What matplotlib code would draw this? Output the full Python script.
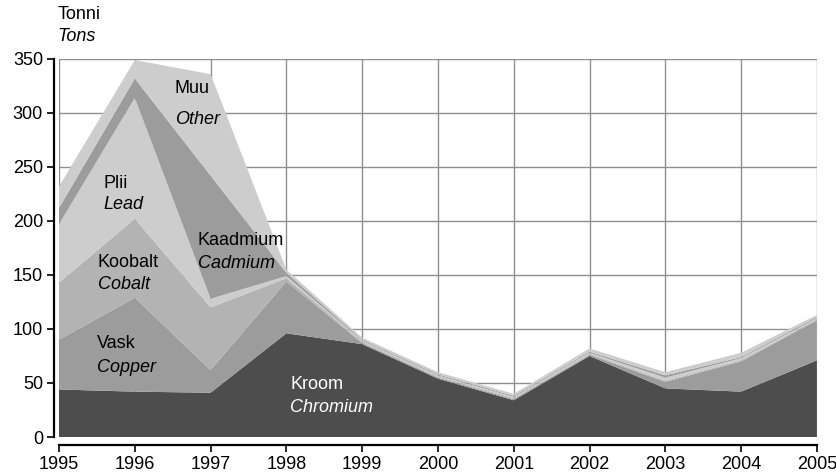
import numpy as np
import matplotlib.pyplot as plt

plt.rcParams['font.family'] = ['Liberation Sans', 'DejaVu Sans']

years = [1995, 1996, 1997, 1998, 1999, 2000, 2001, 2002, 2003, 2004, 2005]
# layer values (tons), bottom to top
chromium = [44, 42, 41, 96, 86, 54, 34, 75, 45, 42, 71]
copper = [46, 87, 21, 48, 1, 1, 1, 1, 6, 28, 37]
cobalt = [53, 73, 58, 3, 1, 1, 1, 1, 1, 1, 1]
lead = [54, 112, 8, 2, 1, 1, 1, 1, 3, 2, 1]
cadmium = [15, 18, 114, 3, 1, 1, 1, 1, 2, 1, 1]
other = [20, 17, 94, 3, 2, 2, 2, 3, 3, 4, 2]

names_et = ["Kroom", "Vask", "Koobalt", "Plii", "Kaadmium", "Muu"]
names_en = ["Chromium", "Copper", "Cobalt", "Lead", "Cadmium", "Other"]
colors = ["#4d4d4d", "#9c9c9c", "#b3b3b3", "#cdcdcd", "#9c9c9c", "#cdcdcd"]

fig = plt.figure(figsize=(8.37, 4.75), dpi=100)
ax = fig.add_axes([0.0705, 0.08, 0.9055, 0.7958])

ax.stackplot(years, chromium, copper, cobalt, lead, cadmium, other,
             colors=colors, linewidth=0, zorder=2)

ax.set_xlim(1995, 2005)
ax.set_ylim(0, 350)
ax.set_xticks(years)
ax.set_yticks(np.arange(0, 351, 50))
ax.grid(True, color="#8f8f8f", linewidth=1.0, zorder=0)
ax.set_axisbelow(True)

for s in ["top", "right"]:
    ax.spines[s].set_visible(False)
ax.spines["left"].set_position(("outward", 3.5))
ax.spines["bottom"].set_position(("outward", 6))
ax.spines["left"].set_linewidth(1.6)
ax.spines["bottom"].set_linewidth(1.6)
ax.tick_params(direction="out", length=5, width=1.2, labelsize=13, pad=3)

# layer labels
label_pos = {
    "Kroom": (1998.05, 49, 27, "white"),
    "Vask": (1995.50, 87, 64, "black"),
    "Koobalt": (1995.51, 162, 141, "black"),
    "Plii": (1995.59, 235, 215, "black"),
    "Kaadmium": (1996.83, 182, 161, "black"),
    "Muu": (1996.53, 323, 294, "black"),
}
for et, en in zip(names_et, names_en):
    x, y1, y2, c = label_pos[et]
    ax.text(x, y1, et, fontsize=13, color=c, va="center", ha="left", zorder=3)
    ax.text(x, y2, en, fontsize=13, color=c, style="italic", va="center", ha="left", zorder=3)

fig.text(0.069, 0.97, "Tonni", fontsize=13, va="center", ha="left")
fig.text(0.069, 0.924, "Tons", fontsize=13, style="italic", va="center", ha="left")

fig.savefig("out.png", dpi=100)
